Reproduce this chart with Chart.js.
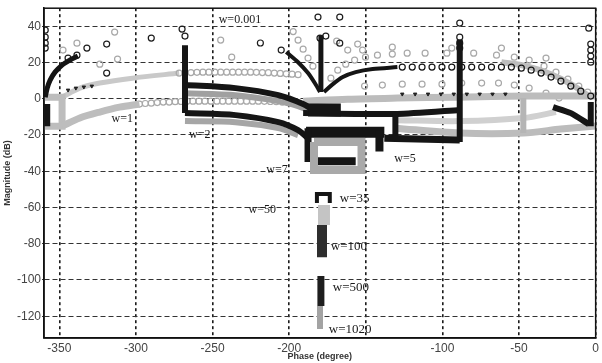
<!DOCTYPE html>
<html><head><meta charset="utf-8">
<script src="https://cdn.jsdelivr.net/npm/chart.js@4"></script>
<style>html,body{margin:0;padding:0;background:#fff}#wrap{width:602px;height:363px}</style>
</head><body><div id="wrap"><canvas id="c" width="602" height="363"></canvas></div>
<script>
// ---- axis ticks ----
const xTickValues = [-350,-300,-250,-200,-150,-100,-50,0];
const yTickValues = [40,20,0,-20,-40,-60,-80,-100,-120];

// ---- template loci, [phase (deg), magnitude (dB)] ----
const lightSparse = [[-347.6,26.9],[-338.5,30.7],[-313.9,36.8],[-312,21.9],[-323.6,19.1],[-244.7,32.4],[-237.5,23],[-197.4,37.1],[-194.2,32.4],[-190.9,27.4],[-187.7,22.5],[-184.5,18],[-169,31.8],[-161.8,26.9],[-155.3,30.2],[-152.1,26.9],[-132.7,28.5],[-93.9,28],[-61.5,28],[-32.4,22.5]];
const darkSparse = [[-359.2,37.9],[-359.2,34],[-359.2,30.7],[-359.2,28],[-344.3,22.5],[-338.5,24.1],[-332,28],[-319.1,30.2],[-319.1,14.2],[-290,33.5],[-269.9,38.5],[-268,34.6],[-218.8,30.8],[-205.2,26.9],[-181.2,45.1],[-167,45.1],[-179.9,33.5],[-176.1,34.6],[-167,30.7],[-88.7,41.8],[-88.7,34],[-88.7,30.7],[-88.7,28],[-4.5,39],[-3.2,30.2],[-3.2,26.9],[-3.2,23.6],[-3.2,20.2]];
const w1UpperBand = [[-348.2,0.9],[-336.6,5.9],[-323.6,8.7],[-302.3,11.4],[-271.8,14.2]];
const w1UpperCircles = [[-271.8,14.2],[-268,14.4],[-264.1,14.5],[-260.2,14.6],[-256.3,14.7],[-252.4,14.7],[-248.5,14.7],[-244.7,14.7],[-240.8,14.7],[-236.9,14.7],[-233,14.7],[-229.1,14.7],[-225.2,14.7],[-221.4,14.6],[-217.5,14.5],[-213.6,14.4],[-209.7,14.2],[-205.8,14],[-201.9,13.8],[-198.1,13.6],[-194.2,13.3]];
const w1LowerCircles = [[-297.7,-2.9],[-293.9,-2.6],[-290,-2.4],[-286.1,-2.1],[-282.2,-1.8],[-278.3,-1.8],[-274.4,-1.6],[-270.6,-1.5],[-266.7,-1.3],[-262.8,-1.3],[-258.9,-1.3],[-255,-1.3],[-251.1,-1.3],[-247.2,-1.3],[-243.4,-1.3],[-239.5,-1.3],[-235.6,-1.3],[-231.7,-1.3],[-227.8,-1.3],[-223.9,-1.3],[-220.1,-1.3],[-216.2,-1.4],[-212.3,-1.5],[-208.4,-1.6],[-204.5,-1.8],[-200.6,-2.1],[-196.8,-2.4]];
const rightUpperCircles = [[-172.8,11.4],[-168.3,15.8],[-163.1,19.1],[-157.3,21.4],[-150.2,23],[-142.4,24.1],[-132.7,24.7],[-123,25.2],[-111.3,25.2],[-97.1,25.2],[-79.6,25.2],[-64.7,24.1],[-53.1,23],[-43.4,21.4],[-33.7,18],[-25.9,14.7],[-18.1,10.9],[-11,7],[-5.2,3.7]];
const rightLowerCircles = [[-150.8,7],[-139.2,7.6],[-126.2,8.1],[-113.3,8.1],[-100.3,8.1],[-87.4,8.7],[-74.4,8.7],[-63.4,8.7],[-53.1,7.6],[-43.4,5.9],[-32.4,3.1],[-23.9,0.4]];
const rightDarkArc = [[-177.3,3.7],[-171.5,8.1],[-165,12],[-156.6,14.7],[-145.6,16.4],[-129.4,17.5]];
const rightDarkCircles = [[-126.2,17.5],[-119.7,17.5],[-113.3,17.5],[-106.8,17.5],[-100.3,17.5],[-93.9,17.5],[-87.4,17.5],[-80.9,17.5],[-74.4,17.5],[-68,17.5],[-61.5,17.5],[-55,17.5],[-48.5,16.9],[-42.1,15.8],[-35.6,14.2],[-29.1,12],[-22.7,9.8],[-16.2,7],[-9.7,4.2],[-3.2,1.5]];
const tickMarksRight = [[-126.2,2.6],[-117.8,2.6],[-109.4,2.6],[-101,2.6],[-92.6,2.6],[-84.1,2.6],[-75.7,2.6],[-67.3,2.6],[-58.9,2.6]];
const tickMarksLeft = [[-344.3,4.8],[-339.2,5.9],[-334,6.5],[-328.8,7]];

const w1LeftBox = [[-361,0.9],[-348.2,0.9],[-348.2,-15.1],[-361,-15.1]];
const w1LowerArc = [[-348.2,-15.1],[-336.6,-10.6],[-323.6,-7.3],[-310.7,-4.6],[-297.7,-2.9]];
const w2MidBandUpper = [[-268,3.1],[-235,2],[-207.1,-1.3],[-194.2,-4],[-187.7,-6.2]];
const w2MidBandLower = [[-268,-12.3],[-235,-12.9],[-207.1,-16.2],[-194.2,-20]];
const rightBandTop = [[-190.9,-1.3],[-161.8,-0.2],[-129.4,0.4],[-90.6,0.9],[-45.3,1.5],[0,1.5]];
const rightBandLow = [[-130.7,-16.2],[-88.7,-18.9],[-47.2,-18.9],[-22.7,-16.7],[0,-15]];
const rightBandVert = [[-47.2,0.4],[-47.2,-18.9]];
const rightBandMid = [[-129.4,-11.8],[-88.7,-12.3],[-47.2,-10.6],[-25.9,-7.3]];
const rightArcGray = [[-61.5,20.2],[-45.3,18],[-29.1,13.6],[-16.2,8.1],[-5.2,2]];

const topLeftArc = [[-359.2,0.9],[-357.9,5.9],[-356,10.3],[-352.8,14.7],[-348.2,18.6],[-343,21.4],[-337.9,23.6]];
const leftEdgeVert = [[-357.9,-2.9],[-357.9,-15.1]];
const rightEdgeVert = [[-3.2,-1.8],[-3.2,-15.1]];
const rightEdgeDiag = [[-27.8,-4.6],[-16.2,-7.9],[-4.5,-14]];
const centerLeftArc = [[-201.9,25.8],[-194.2,20.2],[-187.7,14.2],[-182.5,7.6],[-179.9,3.7]];
const centerStack = [[-179.3,35.1],[-179.3,3.7]];
const w2Vert = [[-268,29.6],[-268,-7.9]];
const w2Upper = [[-268,7.6],[-235,5.9],[-207.1,2],[-190.9,-2.9],[-184.5,-6.2]];
const w2Lower = [[-268,-7.9],[-235,-9],[-207.1,-12.9],[-194.2,-17.3],[-187.7,-21.7]];
const w5Upper = [[-190.9,-7.9],[-129.4,-8.4],[-88.7,-6.2]];
const w5Vert1 = [[-130.7,-7.9],[-130.7,-22.8]];
const w5Vert2 = [[-88.7,32.4],[-88.7,-23.9]];
const w5Bottom = [[-137.9,-21.7],[-88.7,-22.8]];
const centerBlock = [[-187.7,-6.2],[-166.3,-6.2]];
const boxTop = [[-189,-18.4],[-137.9,-18.4]];
const boxLeft = [[-187.7,-16.2],[-187.7,-34.9]];
const boxRight = [[-141.1,-17.3],[-141.1,-29.1]];
const w7Box = [[-183.8,-23.9],[-152.8,-23.9],[-152.8,-39.3],[-183.8,-39.3],[-183.8,-23.9]];
const w7Bar = [[-181.2,-34.4],[-156.6,-34.4]];
const w35Cap = [[-181.9,-57.5],[-181.9,-52.6],[-173.5,-52.6],[-173.5,-57.5]];
const w35Light = [[-177.3,-58.6],[-177.3,-69.7]];
const w100Dark = [[-178.6,-69.7],[-178.6,-87.4]];
const w500Dark = [[-179.3,-97.8],[-179.3,-114.4]];
const w1020Gray = [[-179.9,-114.4],[-179.9,-127]];

// ---- annotations ----
const labelTexts = ['w=0.001','w=1','w=2','w=5','w=7','w=50','w=35','w=100','w=500','w=1020'];
const labelAt = [[-246,43.4],[-315.9,-11.2],[-265.4,-20],[-131.4,-33.3],[-214.9,-39.3],[-226.5,-61.4],[-167,-55.3],[-172.8,-81.3],[-171.5,-103.9],[-174.1,-127.6]];
const labelSize = [12,12,12,12,12,12,13,13,13,13];

const toXY = a => a.map(p => ({x:p[0], y:p[1]}));
function lineDs(a, color, width, tension){
  return {data: toXY(a), showLine:true, borderColor:color, borderWidth:width, pointRadius:0,
          tension: tension||0, fill:false, borderCapStyle:'butt', borderJoinStyle:'miter'};
}
function circDs(a, color, r, lineW, lineColor){
  return {data: toXY(a), showLine: !!lineW, borderColor: lineColor||color, borderWidth: lineW||0,
          pointRadius:r, pointBorderColor:color, pointBackgroundColor:'rgba(255,255,255,0)',
          pointBorderWidth:1.2, pointStyle:'circle', tension:0.3};
}
function markDs(a, color){
  return {data: toXY(a), showLine:false, pointRadius:2, pointStyle:'triangle', pointRotation:180,
          pointBorderColor:color, pointBackgroundColor:color, pointBorderWidth:1};
}

const bottomToTop = [
  circDs(lightSparse,'#a8a8a8',3),
  lineDs(w1UpperBand,'#c9c9c9',5,0.3),
  circDs(w1UpperCircles,'#a9a9a9',3),
  circDs(w1LowerCircles,'#a9a9a9',3),
  circDs(rightUpperCircles,'#a9a9a9',3),
  circDs(rightLowerCircles,'#a9a9a9',3),
  lineDs(rightArcGray,'#bdbdbd',6,0.3),
  lineDs(rightBandMid,'#d0d0d0',6,0.3),
  lineDs(rightBandTop,'#bcbcbc',7,0.3),
  lineDs(rightBandLow,'#bcbcbc',7,0.3),
  lineDs(rightBandVert,'#b5b5b5',6),
  lineDs(w1LeftBox,'#bdbdbd',7),
  lineDs(w1LowerArc,'#bdbdbd',7,0.3),
  lineDs(w2MidBandUpper,'#a0a0a0',6,0.3),
  lineDs(w2MidBandLower,'#a6a6a6',6,0.3),
  circDs(darkSparse,'#1e1e1e',3),
  markDs(tickMarksRight,'#222'),
  markDs(tickMarksLeft,'#222'),
  lineDs(topLeftArc,'#151515',5,0.3),
  lineDs(leftEdgeVert,'#151515',6),
  lineDs(rightEdgeVert,'#151515',6),
  lineDs(rightEdgeDiag,'#151515',6,0.2),
  lineDs(rightDarkArc,'#151515',4,0.3),
  circDs(rightDarkCircles,'#151515',3),
  lineDs(centerLeftArc,'#151515',4,0.3),
  lineDs(centerStack,'#151515',5),
  lineDs(w2Vert,'#151515',6),
  lineDs(w2Upper,'#151515',6,0.3),
  lineDs(w2Lower,'#151515',6,0.3),
  lineDs(w5Upper,'#151515',6,0.2),
  lineDs(w5Vert1,'#151515',6),
  lineDs(w5Vert2,'#151515',6),
  lineDs(w5Bottom,'#151515',7),
  lineDs(centerBlock,'#151515',13),
  lineDs(boxTop,'#151515',11),
  lineDs(boxLeft,'#151515',7),
  lineDs(boxRight,'#151515',8),
  lineDs(w7Box,'#a9a9a9',8),
  lineDs(w7Bar,'#151515',8),
  lineDs(w35Cap,'#151515',4),
  lineDs(w35Light,'#c4c4c4',12),
  lineDs(w100Dark,'#2e2e2e',10),
  lineDs(w500Dark,'#1e1e1e',7),
  lineDs(w1020Gray,'#a3a3a3',6)
];
bottomToTop.forEach((d,i) => { d.order = bottomToTop.length - i; });

const labelPlugin = {
  id:'labels',
  afterDatasetsDraw(chart){
    const {ctx, scales:{x,y}} = chart;
    ctx.save();
    ctx.fillStyle = '#1a1a1a';
    ctx.textAlign = 'left'; ctx.textBaseline = 'middle';
    labelTexts.forEach((t,i) => {
      ctx.font = labelSize[i] + 'px "Liberation Serif", serif';
      ctx.fillText(t, x.getPixelForValue(labelAt[i][0]), y.getPixelForValue(labelAt[i][1]));
    });
    ctx.restore();
  }
};
const framePlugin = {
  id:'frame',
  afterDraw(chart){
    const {ctx, chartArea:a} = chart;
    ctx.save(); ctx.strokeStyle = '#111'; ctx.lineWidth = 1.5;
    ctx.strokeRect(a.left, a.top, a.right - a.left, a.bottom - a.top);
    ctx.restore();
  }
};

new Chart(document.getElementById('c'), {
  type:'scatter',
  data:{datasets: bottomToTop},
  options:{
    responsive:false, animation:false,
    layout:{padding:{top:7, right:2, left:0, bottom:0}},
    plugins:{legend:{display:false}, tooltip:{enabled:false}},
    scales:{
      x:{type:'linear', min:-360, max:0,
         afterBuildTicks: s => { s.ticks = xTickValues.map(v => ({value:v})); },
         afterFit: s => { s.height = 25; },
         ticks:{font:{size:12, family:'"Liberation Sans", Arial, sans-serif'}, color:'#444', padding:3,
                maxRotation:0, autoSkip:false, callback: v => (v === -150 ? '' : String(v))},
         grid:{color:'#1a1a1a', lineWidth:1.6, drawTicks:false},
         border:{dash:[3,3], color:'#111', width:1.5},
         title:{display:true, text:'Phase (degree)', font:{size:9, weight:'bold', family:'"Liberation Sans", Arial, sans-serif'}, color:'#333', padding:{top:0,bottom:1}}},
      y:{type:'linear', min:-132, max:50,
         afterBuildTicks: s => { s.ticks = yTickValues.map(v => ({value:v})); },
         afterFit: s => { s.width = 44; },
         ticks:{font:{size:12, family:'"Liberation Sans", Arial, sans-serif'}, color:'#444', padding:1, autoSkip:false},
         grid:{color:'#333', lineWidth:1.1, tickLength:2, drawTicks:true},
         border:{dash:[5,3], color:'#111', width:1.5},
         title:{display:true, text:'Magnitude (dB)', font:{size:9, weight:'bold', family:'"Liberation Sans", Arial, sans-serif'}, color:'#333', padding:{top:2,bottom:0}}}
    }
  },
  plugins:[labelPlugin, framePlugin]
});
</script></body></html>
